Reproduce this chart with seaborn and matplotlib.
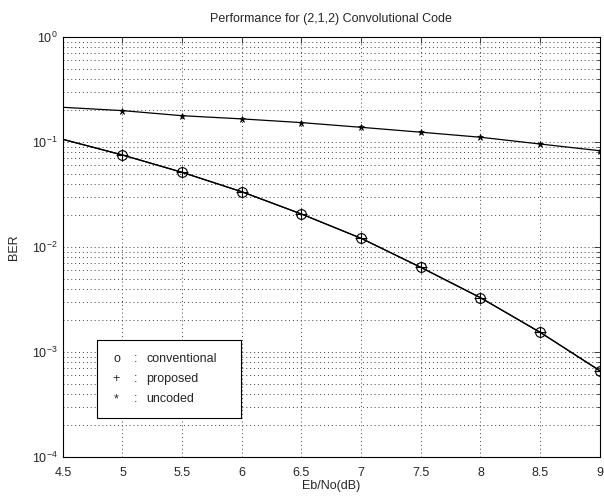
import numpy as np
import matplotlib
matplotlib.use("Agg")
import matplotlib.pyplot as plt
import seaborn as sns
from matplotlib.ticker import FuncFormatter, LogLocator
from matplotlib.patches import Rectangle

# Eb/No values (dB)
ebno = [4.5, 5, 5.5, 6, 6.5, 7, 7.5, 8, 8.5, 9]
# BER
ber_conventional = [0.106, 0.0752, 0.0514, 0.0336, 0.0206, 0.0121, 0.0064, 0.00329, 0.00154, 0.000664]
ber_proposed = [0.106, 0.0752, 0.0514, 0.0336, 0.0206, 0.0121, 0.0064, 0.00329, 0.00154, 0.000664]
ber_uncoded = [0.214, 0.199, 0.178, 0.166, 0.153, 0.138, 0.124, 0.111, 0.0957, 0.0826]

sns.set_style("white")
plt.rcParams['font.family'] = ['Liberation Sans', 'DejaVu Sans']
plt.rcParams['font.size'] = 9
plt.rcParams['xtick.direction'] = 'in'
plt.rcParams['ytick.direction'] = 'in'

fig = plt.figure(figsize=(6.04, 5.0), dpi=100)
ax = fig.add_axes([0.104, 0.086, 0.889, 0.840])

# no marker on the first point (it sits on the left edge in the original)
mk = slice(1, None)
sns.lineplot(x=ebno, y=ber_conventional, ax=ax, color='k', lw=0.9, marker='o',
             mfc='none', mec='k', ms=7, mew=0.8, markevery=mk)
sns.lineplot(x=ebno, y=ber_proposed, ax=ax, color='k', lw=0.9, marker='+',
             mec='k', ms=8, mew=0.8, markevery=mk)
sns.lineplot(x=ebno, y=ber_uncoded, ax=ax, color='k', lw=0.9, marker='*',
             mfc='k', mec='k', ms=5, mew=0.5, markevery=mk)

ax.set_yscale('log')
ax.set_ylim(1e-4, 1)
ax.set_xlim(4.5, 9)
ax.set_xticks(ebno)
ax.xaxis.set_major_formatter(FuncFormatter(lambda v, p: '%g' % v))
ax.yaxis.set_major_locator(LogLocator(base=10, numticks=10))
ax.yaxis.set_minor_locator(LogLocator(base=10, subs=np.arange(2, 10), numticks=20))

dots = (0, (1, 3))
ax.grid(True, which='major', axis='both', linestyle=dots, color='0.25', lw=0.7)
ax.grid(True, which='minor', axis='y', linestyle=dots, color='0.25', lw=0.7)
ax.tick_params(which='both', top=True, right=True, length=4, width=0.6)
ax.tick_params(which='minor', length=2)
ax.tick_params(axis='x', pad=7)
for s in ax.spines.values():
    s.set_linewidth(0.8)
    s.set_color('k')

ax.set_title("Performance for (2,1,2) Convolutional Code", fontsize=9, pad=11)
ax.set_xlabel("Eb/No(dB)", fontsize=9, labelpad=1)
ax.set_ylabel("BER", fontsize=9, labelpad=9)

# legend box in text style
box = Rectangle((0.063, 0.094), 0.268, 0.184, transform=ax.transAxes,
                facecolor='white', edgecolor='k', lw=0.8, zorder=5)
ax.add_patch(box)
rows = [("o", "conventional"), ("+", "proposed"), ("*", "uncoded")]
for i, (sym, lab) in enumerate(rows):
    yy = 0.233 - i * 0.048
    ax.text(0.100, yy, sym, transform=ax.transAxes, ha='center', va='center', fontsize=9, zorder=6)
    ax.text(0.135, yy, ":", transform=ax.transAxes, ha='center', va='center', fontsize=9, zorder=6)
    ax.text(0.155, yy, lab, transform=ax.transAxes, ha='left', va='center', fontsize=9, zorder=6)

fig.savefig("out.png", dpi=100)
